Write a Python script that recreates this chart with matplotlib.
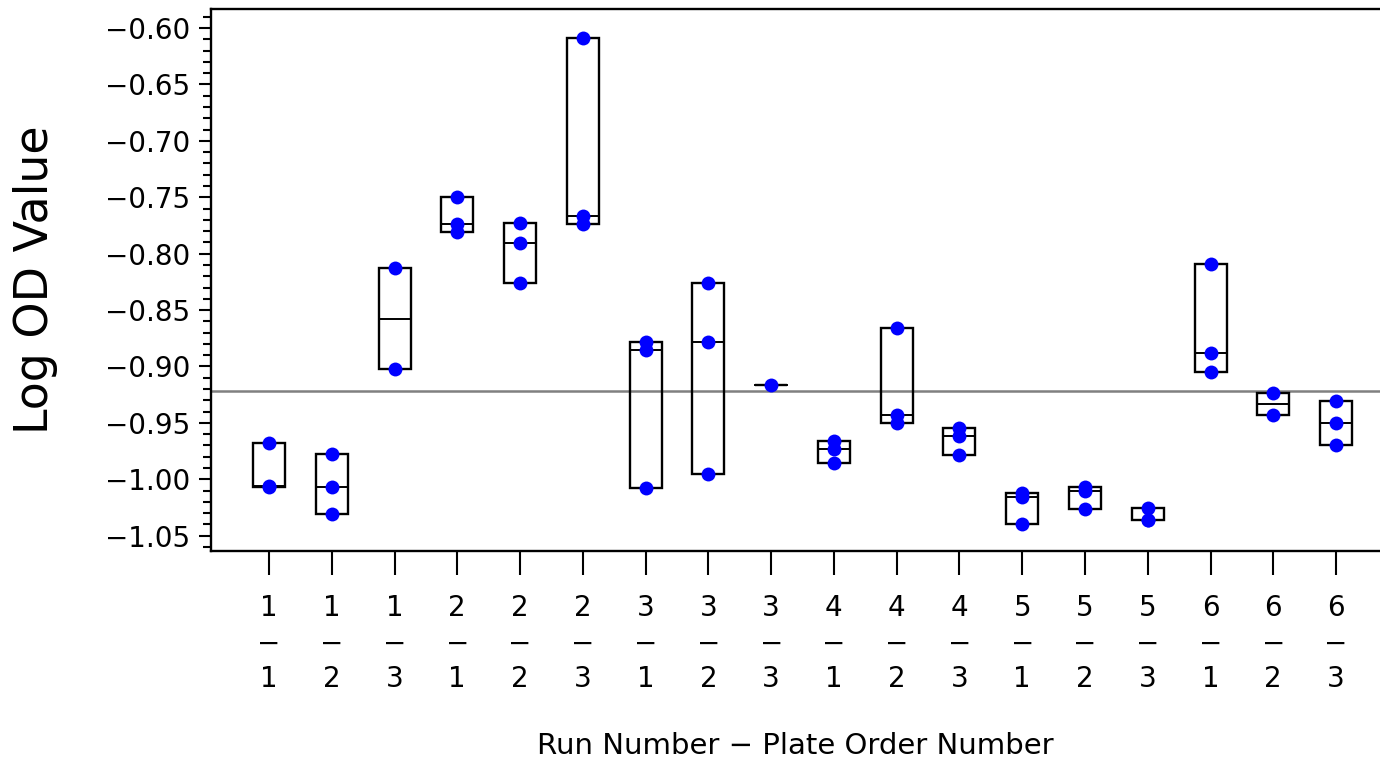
import numpy as np
import matplotlib
matplotlib.use("Agg")
import matplotlib.pyplot as plt
from matplotlib.patches import Rectangle
from matplotlib.ticker import MultipleLocator, FuncFormatter

# Run number / plate order number for each group
run_numbers = [1, 1, 1, 2, 2, 2, 3, 3, 3, 4, 4, 4, 5, 5, 5, 6, 6, 6]
plate_numbers = [1, 2, 3, 1, 2, 3, 1, 2, 3, 1, 2, 3, 1, 2, 3, 1, 2, 3]

# Log OD values, one list per group
log_od = [
    [-0.968, -1.006, -1.007],
    [-0.978, -1.0066, -1.031],
    [-0.813, -0.902],
    [-0.7494, -0.7734, -0.781],
    [-0.7731, -0.7905, -0.8263],
    [-0.6085, -0.7665, -0.774],
    [-0.8785, -0.8854, -1.0073],
    [-0.826, -0.8785, -0.9956],
    [-0.9165],
    [-0.966, -0.9734, -0.986],
    [-0.8658, -0.943, -0.9503],
    [-0.9541, -0.9614, -0.9788],
    [-1.0119, -1.016, -1.0399],
    [-1.0066, -1.0101, -1.0264],
    [-1.0255, -1.0358, -1.036],
    [-0.8089, -0.888, -0.9051],
    [-0.9234, -0.943],
    [-0.9304, -0.9497, -0.9693],
]

overall_mean = -0.9213

plt.rcParams['font.family'] = ['DejaVu Sans']

fig = plt.figure(figsize=(13.8, 7.59), dpi=100)
ax = fig.add_axes([0.1529, 0.274, 0.8471, 0.714])

x = np.arange(len(log_od))
box_w = 0.51

for xi, vals in zip(x, log_od):
    lo, hi = min(vals), max(vals)
    med = np.median(vals)
    ax.add_patch(Rectangle((xi - box_w / 2, lo), box_w, hi - lo,
                           fill=False, edgecolor='black', linewidth=1.7, zorder=2))
    ax.plot([xi - box_w / 2, xi + box_w / 2], [med, med], color='black',
            linewidth=1.4, zorder=2)
    ax.plot([xi] * len(vals), vals, 'o', color='#0000ff', markersize=10,
            markeredgewidth=0, zorder=3)

ax.axhline(overall_mean, color='#808080', linewidth=1.8, zorder=1)

ax.set_xlim(-0.924, 17.70)
ax.set_ylim(-1.0636, -0.5832)

ax.yaxis.set_major_locator(MultipleLocator(0.05))
ax.yaxis.set_minor_locator(MultipleLocator(0.01))
ax.yaxis.set_major_formatter(FuncFormatter(lambda v, pos: f"{v:.2f}".replace('-', '\u2212')))
ax.tick_params(axis='y', which='major', length=9, width=1.5, labelsize=20, pad=6)
ax.tick_params(axis='y', which='minor', length=6, width=1.5)

ax.set_xticks(x)
ax.set_xticklabels([f"{r}\n\u2212\n{p}" for r, p in zip(run_numbers, plate_numbers)],
                   linespacing=1.35)
ax.tick_params(axis='x', length=17, width=1.5, labelsize=20, pad=14)

for side in ['left', 'top', 'bottom']:
    ax.spines[side].set_linewidth(1.7)
ax.spines['right'].set_visible(False)

ax.set_ylabel('Log OD Value', fontsize=33, labelpad=34)
ax.set_xlabel('Run Number \u2212 Plate Order Number', fontsize=21, labelpad=28)

fig.savefig('out.png', dpi=100)
